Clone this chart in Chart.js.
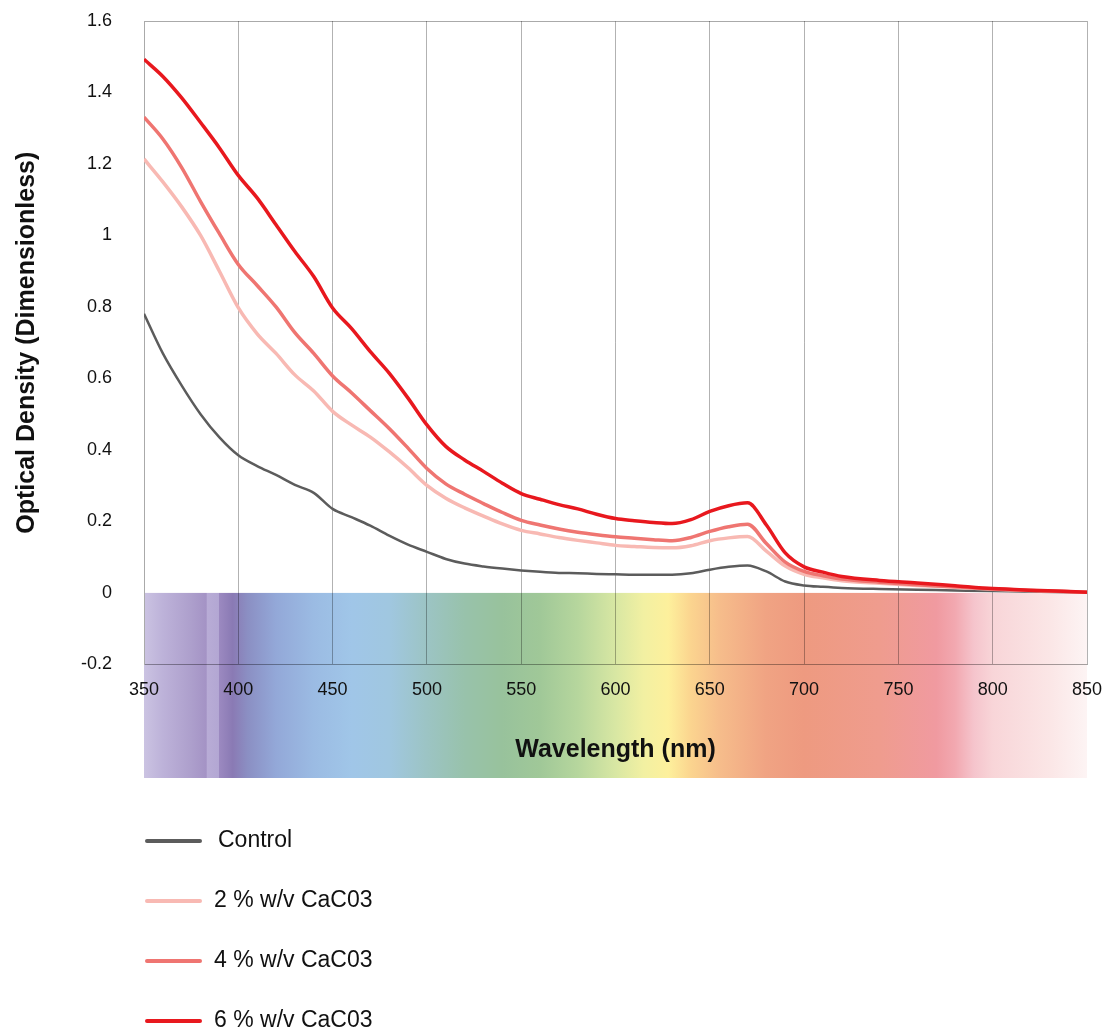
<!DOCTYPE html>
<html>
<head>
<meta charset="utf-8">
<script src="https://cdn.jsdelivr.net/npm/chart.js@4.4.0/dist/chart.umd.min.js"></script>
<style>
  html, body { margin: 0; padding: 0; background: #fff; }
  #wrap { width: 1107px; height: 1034px; }
</style>
</head>
<body>
<div id="wrap"><canvas id="myChart"></canvas></div>
<script>
// wavelengths (nm)
const wavelengths = [350, 360, 370, 380, 390, 400, 410, 420, 430, 440, 450, 460, 470, 480, 490, 500,
    510, 520, 530, 540, 550, 560, 570, 580, 590, 600, 610, 620, 630, 640, 650, 660, 670, 680, 690, 700,
    710, 720, 740, 760, 780, 800, 825, 850]

// optical density per series
const controlValues = [0.781, 0.67, 0.58, 0.50, 0.435, 0.385, 0.355, 0.33, 0.302, 0.28, 0.235, 0.212, 0.188, 0.16, 0.135, 0.115,
    0.095, 0.082, 0.074, 0.068, 0.063, 0.059, 0.056, 0.055, 0.053, 0.052, 0.051, 0.051, 0.051, 0.055, 0.065, 0.073, 0.077, 0.06, 0.032, 0.021,
    0.017, 0.014, 0.011, 0.009, 0.007, 0.005, 0.003, 0.001]
const caco2Values = [1.214, 1.15, 1.08, 1.0, 0.9, 0.798, 0.725, 0.67, 0.61, 0.565, 0.508, 0.47, 0.436, 0.395, 0.35, 0.301,
    0.265, 0.238, 0.215, 0.193, 0.175, 0.165, 0.155, 0.147, 0.14, 0.133, 0.13, 0.127, 0.126, 0.132, 0.146, 0.154, 0.158, 0.117, 0.075, 0.052,
    0.042, 0.034, 0.027, 0.021, 0.016, 0.01, 0.006, 0.002]
const caco4Values = [1.331, 1.27, 1.19, 1.095, 1.005, 0.919, 0.86, 0.8, 0.728, 0.67, 0.607, 0.56, 0.51, 0.46, 0.405, 0.348,
    0.305, 0.276, 0.25, 0.225, 0.203, 0.19, 0.179, 0.17, 0.163, 0.157, 0.153, 0.149, 0.146, 0.155, 0.172, 0.185, 0.192, 0.138, 0.086, 0.06,
    0.048, 0.039, 0.03, 0.023, 0.017, 0.011, 0.006, 0.002]
const caco6Values = [1.493, 1.445, 1.385, 1.316, 1.245, 1.168, 1.105, 1.03, 0.955, 0.885, 0.797, 0.74, 0.675, 0.615, 0.545, 0.47,
    0.41, 0.372, 0.34, 0.307, 0.278, 0.262, 0.247, 0.235, 0.22, 0.208, 0.202, 0.197, 0.194, 0.205, 0.228, 0.244, 0.252, 0.19, 0.112, 0.073,
    0.058, 0.046, 0.035, 0.028, 0.02, 0.012, 0.007, 0.002]

const seriesNames = ['Control', '2 % w/v CaC03', '4 % w/v CaC03', '6 % w/v CaC03']
const seriesValues = [controlValues, caco2Values, caco4Values, caco6Values]
const seriesColors = ['#5c5c5c', '#f8b9b3', '#ef7571', '#e8181e']
const seriesWidths = [2.5, 3.5, 3.5, 3.5]

// visible spectrum band under the plot
const spectrumNm = [350, 360, 375, 383, 383.5, 389.5, 390, 397, 405, 420, 440, 460, 480, 500, 520, 540, 560, 580,
    600, 615, 628, 640, 655, 680, 700, 740, 770, 780, 790, 800, 830, 850]
const spectrumColors = ['#cbc3e2', '#bdb2d9', '#ad9fcc', '#a493c5', '#b8acd6', '#b3a7d3', '#9b89c0', '#8a7ab4',
    '#8b8fc3', '#93a8d8', '#9bbbe3', '#a0c6e8', '#a0c7e0', '#9cc4c4', '#98c2ab', '#98c29c', '#a0c898', '#b6d69d',
    '#d8e7a3', '#f2f0a2', '#fdf09c', '#fbd48f', '#f6bd8b', '#f0a383', '#ee9a80', '#ef9c8e', '#f09aa0', '#f2a8b0',
    '#f5c4cc', '#f8d5d8', '#fbe6e6', '#fdf4f4']

const fontName = "'Liberation Sans', Arial, sans-serif"

// Faixa do espectro (desenhada antes da grade)
const spectrumPlugin = {
    id: 'spectrum',
    beforeDraw(chart) {
        const c = chart.ctx
        const x = chart.scales.x
        const y = chart.scales.y
        const left = x.getPixelForValue(350)
        const right = x.getPixelForValue(850)
        const top = y.getPixelForValue(0)
        const grad = c.createLinearGradient(left, 0, right, 0)
        spectrumNm.forEach((nm, i) => {
            grad.addColorStop((nm - 350) / 500, spectrumColors[i])
        })
        c.save()
        c.fillStyle = grad
        c.fillRect(left, top, right - left, x.bottom - top)
        // top border of plot
        c.strokeStyle = '#aaaaaa'
        c.lineWidth = 1
        c.beginPath()
        c.moveTo(chart.chartArea.left, chart.chartArea.top + 0.5)
        c.lineTo(chart.chartArea.right, chart.chartArea.top + 0.5)
        c.stroke()
        c.restore()
    }
}

// Legenda vertical embaixo
const legendPlugin = {
    id: 'vlegend',
    afterDraw(chart) {
        const c = chart.ctx
        const x = chart.scales.x
        c.save()
        c.font = '23px ' + fontName
        c.textBaseline = 'middle'
        c.fillStyle = '#111'
        seriesNames.forEach((name, i) => {
            const yy = x.bottom + 63 + i * 60
            c.strokeStyle = seriesColors[i]
            c.lineWidth = 4
            c.lineCap = 'round'
            c.beginPath()
            c.moveTo(x.left + 3, yy)
            c.lineTo(x.left + 56, yy)
            c.stroke()
            c.fillText(name, x.left + (i === 0 ? 74 : 70), yy)
        })
        c.restore()
    }
}

const datasets = seriesNames.map((name, i) => ({
    label: name,
    data: wavelengths.map((w, j) => ({ x: w, y: seriesValues[i][j] })),
    borderColor: seriesColors[i],
    borderWidth: seriesWidths[i],
    pointRadius: 0,
    cubicInterpolationMode: 'monotone',
    fill: false,
    order: 3 - i
}))

const ctx = document.getElementById('myChart')
new Chart(ctx, {
    type: 'line',
    data: { datasets: datasets },
    plugins: [spectrumPlugin, legendPlugin],
    options: {
        responsive: true,
        maintainAspectRatio: false,
        animation: false,
        events: [],
        layout: { padding: { left: 12, right: 20, top: 21, bottom: 256 } },
        plugins: {
            legend: { display: false },
            tooltip: { enabled: false }
        },
        scales: {
            x: {
                type: 'linear',
                min: 350,
                max: 850,
                afterFit(scale) { scale.paddingLeft = 0; scale.paddingRight = 0 },
                ticks: { stepSize: 50, padding: 15, color: '#111', font: { family: fontName, size: 18 } },
                grid: { color: 'rgba(0,0,0,0.3)', drawTicks: false },
                border: { color: 'rgba(0,0,0,0.35)' },
                title: {
                    display: true,
                    text: 'Wavelength (nm)',
                    color: '#111',
                    font: { family: fontName, size: 25, weight: 'bold', lineHeight: 2.24 },
                    padding: { top: 6, bottom: 0 }
                }
            },
            y: {
                min: -0.2,
                max: 1.6,
                afterFit(scale) { scale.width = 132; scale.paddingTop = 0; scale.paddingBottom = 0 },
                ticks: {
                    stepSize: 0.2,
                    padding: 24,
                    color: '#111',
                    font: { family: fontName, size: 18 },
                    callback: v => String(Math.round(v * 10) / 10)
                },
                grid: { display: false },
                border: { color: '#aaaaaa' },
                title: {
                    display: true,
                    text: 'Optical Density (Dimensionless)',
                    color: '#111',
                    font: { family: fontName, size: 25, weight: 'bold' },
                    padding: 0
                }
            }
        }
    }
})
</script>
</body>
</html>
